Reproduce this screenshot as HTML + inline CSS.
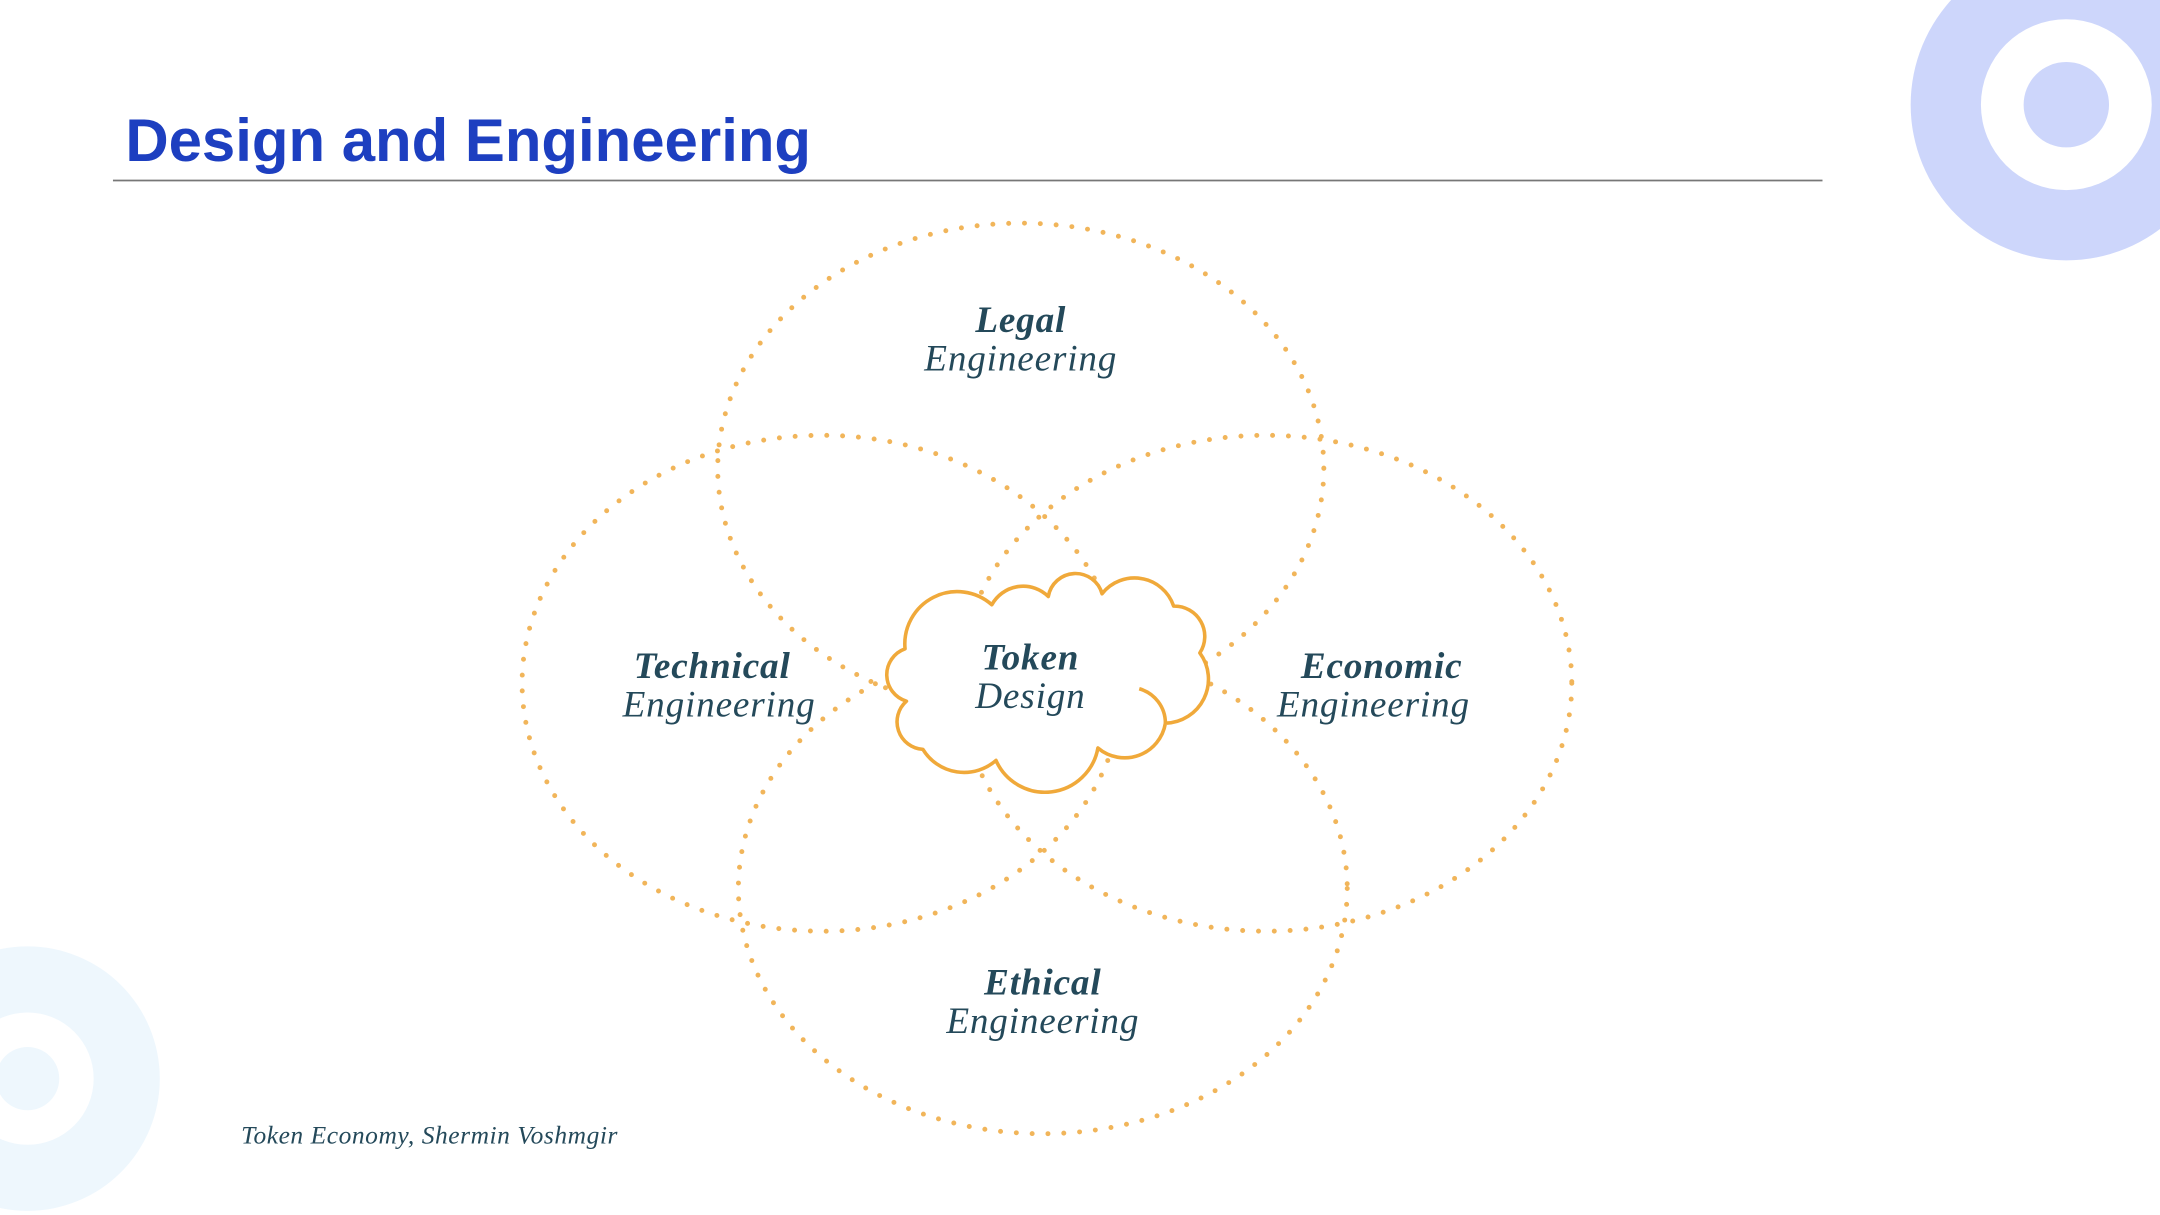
<!DOCTYPE html>
<html><head><meta charset="utf-8"><style>
html,body{margin:0;padding:0;background:#fff;}
svg{display:block;}
.t{font-family:"Liberation Serif",serif;fill:#24495a;text-anchor:middle;}
</style></head><body>
<svg width="2160" height="1215" viewBox="0 0 1568 882" xmlns="http://www.w3.org/2000/svg">
<rect width="1568" height="882" fill="#fff"/>
<circle cx="1500" cy="76" r="113" fill="#cdd6fb"/>
<circle cx="1500" cy="76" r="62" fill="#fff"/>
<circle cx="1500" cy="76" r="31" fill="#cdd6fb"/>
<circle cx="20" cy="783" r="96" fill="#eef7fd"/>
<circle cx="20" cy="783" r="48" fill="#fff"/>
<circle cx="20" cy="783" r="23" fill="#eef7fd"/>
<text x="91" y="117" font-family="Liberation Sans, sans-serif" font-weight="bold" font-size="43.5" fill="#1d3fc0">Design and Engineering</text>
<line x1="82" y1="131" x2="1323" y2="131" stroke="#777" stroke-width="1.3"/>
<g fill="none" stroke="#f1b55a" stroke-width="3.6" stroke-linecap="round" stroke-dasharray="0 11.5">
<ellipse cx="741" cy="340" rx="220" ry="178"/>
<ellipse cx="597" cy="496" rx="218" ry="180"/>
<ellipse cx="919" cy="496" rx="222" ry="180"/>
<ellipse cx="757" cy="645" rx="221" ry="178"/>
</g>
<path d="M657,471 A38,38 0 0 1 720,439 A26,26 0 0 1 761,433 A20,20 0 0 1 800,431 A30,30 0 0 1 852,440 A22,22 0 0 1 871,474 A32,32 0 0 1 846,525 A30,30 0 0 1 797,543 A39,39 0 0 1 723,552 A35,35 0 0 1 670,544 A20,20 0 0 1 658,509 A20,20 0 0 1 657,471 Z" fill="#fff" stroke="#f0a93a" stroke-width="2.6" stroke-linejoin="round"/>
<path d="M827,500 A26,26 0 0 1 846,525" fill="none" stroke="#f0a93a" stroke-width="2.6"/>
<g class="t" font-size="27" letter-spacing="0.6">
<text x="741" y="241" font-weight="bold" font-style="italic">Legal</text>
<text x="741" y="269" font-style="italic">Engineering</text>
<text x="517" y="492" font-weight="bold" font-style="italic">Technical</text>
<text x="522" y="520" font-style="italic">Engineering</text>
<text x="1003" y="492" font-weight="bold" font-style="italic">Economic</text>
<text x="997" y="520" font-style="italic">Engineering</text>
<text x="757" y="722" font-weight="bold" font-style="italic">Ethical</text>
<text x="757" y="750" font-style="italic">Engineering</text>
<text x="748" y="486" font-weight="bold" font-style="italic">Token</text>
<text x="748" y="514" font-style="italic">Design</text>
</g>
<text x="175" y="830" font-family="Liberation Serif, serif" font-style="italic" font-size="18.5" letter-spacing="0.4" fill="#24495a">Token Economy, Shermin Voshmgir</text>
</svg>
</body></html>
